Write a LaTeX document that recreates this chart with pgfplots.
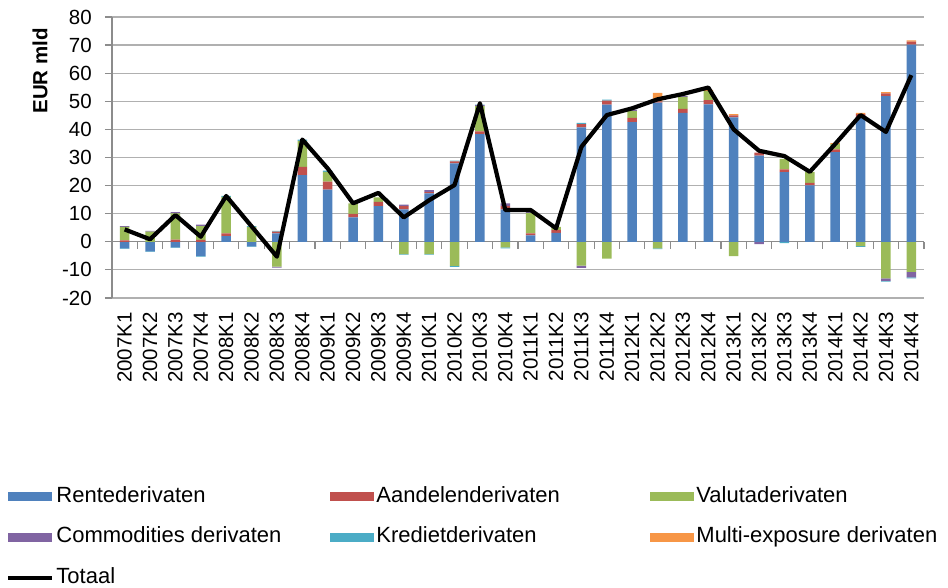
\documentclass[border=0pt]{standalone}
\usepackage{fontspec}
\setmainfont{Liberation Sans}
\usepackage{pgfplots}
\usepackage{pgfplotstable}
\pgfplotsset{compat=1.18}

\definecolor{cR}{HTML}{4F81BD}
\definecolor{cA}{HTML}{C0504D}
\definecolor{cV}{HTML}{9BBB59}
\definecolor{cC}{HTML}{8064A2}
\definecolor{cK}{HTML}{4BACC6}
\definecolor{cM}{HTML}{F79646}
\definecolor{gridc}{HTML}{B0B0B0}
\definecolor{axc}{HTML}{8C8C8C}

% positive parts
\pgfplotstableread{
x R A V C K M
0 0 0.5 4.8 0.3 0 0
1 0 0 3.6 0.3 0 0
2 0 0.8 9.3 0.5 0 0
3 0 0.7 4.9 0.5 0 0
4 2.0 1.0 13.0 0 0.3 0
5 0 0 5.3 0 0.3 0
6 3.0 0.6 0 0 0.3 0
7 23.7 3.0 9.2 0 0.5 0
8 18.6 2.8 3.5 0 0.4 0
9 8.7 1.2 3.8 0 0 0
10 12.7 1.5 1.6 0 0 0
11 11.5 1.2 0 0.5 0 0
12 17.2 0.5 0 0.7 0 0
13 27.9 0.7 0 0 0.3 0
14 38.3 1.0 9.0 0.3 0.2 0
15 11.5 1.2 0 1.0 0 0
16 2.3 0.7 7.3 0.3 0 0
17 3.2 1.0 1.1 0 0 0
18 40.7 1.2 0 0 0.4 0
19 48.8 1.4 0 0 0.4 0
20 42.6 1.5 2.4 0.5 0 0
21 49.5 0.5 0 0 0 3.0
22 45.9 1.4 4.3 0.3 0 0
23 48.9 1.5 3.3 0 0 0.4
24 44.3 0.7 0 0 0 0.4
25 30.7 1.0 0 0 0 0
26 24.8 1.0 3.7 0 0 0
27 20.1 0.9 3.9 0 0 0
28 31.9 1.0 1.9 0 0 0.3
29 44.3 1.1 0 0 0 0.5
30 51.8 1.0 0 0 0 0.5
31 70.2 1.0 0 0 0 0.5
}\pos

% negative parts
\pgfplotstableread{
x R A V C K M
0 -2.3 0 0 0 -0.2 0
1 -3.4 0 0 0 -0.2 0
2 -2.0 0 0 0 -0.2 0
3 -5.1 0 0 0 -0.2 0
4 0 0 0 0 0 0
5 -1.6 0 0 0 -0.2 0
6 0 0 -8.8 -0.4 0 0
7 0 0 0 0 0 0
8 0 0 0 0 0 0
9 0 0 0 0 0 0
10 0 0 0 0 0 0
11 0 0 -4.4 0 -0.2 0
12 0 0 -4.4 0 -0.2 0
13 0 0 -8.6 0 -0.3 0
14 0 0 0 0 0 0
15 0 0 -2.0 0 -0.3 0
16 0 0 0 0 0 0
17 0 0 0 0 0 0
18 0 0 -8.5 -0.8 0 0
19 0 0 -6.0 0 0 0
20 0 0 0 0 0 0
21 0 0 -2.3 0 -0.3 0
22 0 0 0 0 0 0
23 0 0 0 0 0 0
24 0 0 -5.1 0 0 0
25 0 0 0 -0.8 0 0
26 0 0 0 0 -0.5 0
27 0 0 0 0 0 0
28 0 0 0 0 0 0
29 0 0 -1.5 0 -0.3 0
30 0 0 -13.0 -0.9 -0.3 0
31 0 0 -10.7 -2.0 -0.3 0
}\neg

% totals
\pgfplotstableread{
x T
0 4.4
1 0.9
2 9.5
3 1.8
4 16.3
5 5.5
6 -5.3
7 36.4
8 26.1
9 13.7
10 17.4
11 8.7
12 14.8
13 20.2
14 49.3
15 11.3
16 11.3
17 4.8
18 33.8
19 45.1
20 47.5
21 50.7
22 52.6
23 54.9
24 40.0
25 32.4
26 30.5
27 24.9
28 34.8
29 45.1
30 39.1
31 59.3
}\tot

\pgfplotsset{
  base/.style={scale only axis, width=812pt, height=281pt,
    xmin=-0.5, xmax=31.5, ymin=-20, ymax=80,
    tick label style={font=\fontsize{20.5}{24}\selectfont},
    /pgf/number format/assume math mode=true},
  patch/.style={legend image code/.code={\fill[##1] (0pt,-4.5pt) rectangle (44pt,4.5pt);}},
  lineleg/.style={legend image code/.code={\draw[##1] (0pt,0pt) -- (44pt,0pt);}},
}

\begin{document}
\begin{tikzpicture}
% axis A: grid, y axis, zero line, negative bars
\begin{axis}[base, ybar stacked, bar width=9.5pt,
  axis x line*=middle, axis y line*=left,
  axis line style={color=axc, line width=1.2pt},
  ytick={-20,-10,...,80},
  ymajorgrids, grid style={color=gridc, line width=1.2pt},
  xtick={-0.5,0.5,...,31.5}, xticklabels={},
  tick style={color=axc, line width=1.2pt},
  tick align=outside, major tick length=7pt,
  yticklabel style={anchor=east, inner sep=0pt, xshift=-13pt},
  ylabel={\bfseries EUR mld},
  every axis y label/.style={at={(rel axis cs:-0.0887,0.808)}, rotate=90, anchor=center,
    font=\fontsize{20.5}{24}\selectfont},
]
\coordinate (SW) at (rel axis cs:0,0);
\addplot[fill=cR, draw=none] table[x=x,y=R]{\neg};
\addplot[fill=cA, draw=none] table[x=x,y=A]{\neg};
\addplot[fill=cV, draw=none] table[x=x,y=V]{\neg};
\addplot[fill=cC, draw=none] table[x=x,y=C]{\neg};
\addplot[fill=cK, draw=none] table[x=x,y=K]{\neg};
\addplot[fill=cM, draw=none] table[x=x,y=M]{\neg};
\end{axis}
% axis B: positive bars and category labels
\begin{axis}[base, ybar stacked, bar width=9.5pt,
  axis y line=none, axis x line*=bottom,
  x axis line style={draw=none},
  ytick=\empty,
  xtick={0,1,...,31},
  xticklabels={2007K1,2007K2,2007K3,2007K4,2008K1,2008K2,2008K3,2008K4,
    2009K1,2009K2,2009K3,2009K4,2010K1,2010K2,2010K3,2010K4,
    2011K1,2011K2,2011K3,2011K4,2012K1,2012K2,2012K3,2012K4,
    2013K1,2013K2,2013K3,2013K4,2014K1,2014K2,2014K3,2014K4},
  major tick length=0pt,
  xticklabel style={yshift=-14pt, rotate=90, anchor=east, inner sep=0pt},
]
\addplot[fill=cR, draw=none] table[x=x,y=R]{\pos};
\addplot[fill=cA, draw=none] table[x=x,y=A]{\pos};
\addplot[fill=cV, draw=none] table[x=x,y=V]{\pos};
\addplot[fill=cC, draw=none] table[x=x,y=C]{\pos};
\addplot[fill=cK, draw=none] table[x=x,y=K]{\pos};
\addplot[fill=cM, draw=none] table[x=x,y=M]{\pos};
\end{axis}
% axis C: total line and legend
\begin{axis}[base, hide axis,
  legend columns=3,
  legend style={at={(rel axis cs:-0.1305,-0.6726)}, anchor=north west,
    draw=none, fill=none, inner sep=0pt, column sep=0pt, row sep=21.5pt,
    font=\fontsize{22}{26}\selectfont,
    nodes={inner sep=0pt, text height=15pt, text depth=4pt}},
  legend cell align=left,
]
\addlegendimage{patch, fill=cR, draw=none}
\addlegendentry{\makebox[276pt][l]{\hspace{2pt}Rentederivaten}}
\addlegendimage{patch, fill=cA, draw=none}
\addlegendentry{\makebox[276pt][l]{\hspace{2pt}Aandelenderivaten}}
\addlegendimage{patch, fill=cV, draw=none}
\addlegendentry{\makebox[276pt][l]{\hspace{2pt}Valutaderivaten}}
\addlegendimage{patch, fill=cC, draw=none}
\addlegendentry{\makebox[276pt][l]{\hspace{2pt}Commodities derivaten}}
\addlegendimage{patch, fill=cK, draw=none}
\addlegendentry{\makebox[276pt][l]{\hspace{2pt}Kredietderivaten}}
\addlegendimage{patch, fill=cM, draw=none}
\addlegendentry{\makebox[276pt][l]{\hspace{2pt}Multi-exposure derivaten}}
\addplot[lineleg, black, line width=4.2pt, line join=round] table[x=x,y=T]{\tot};
\addlegendentry{\makebox[276pt][l]{\hspace{2pt}Totaal}}
\end{axis}
\pgfresetboundingbox
\path (SW) ++(-112pt,-290pt) rectangle ++(948pt,588pt);
\end{tikzpicture}
\end{document}
